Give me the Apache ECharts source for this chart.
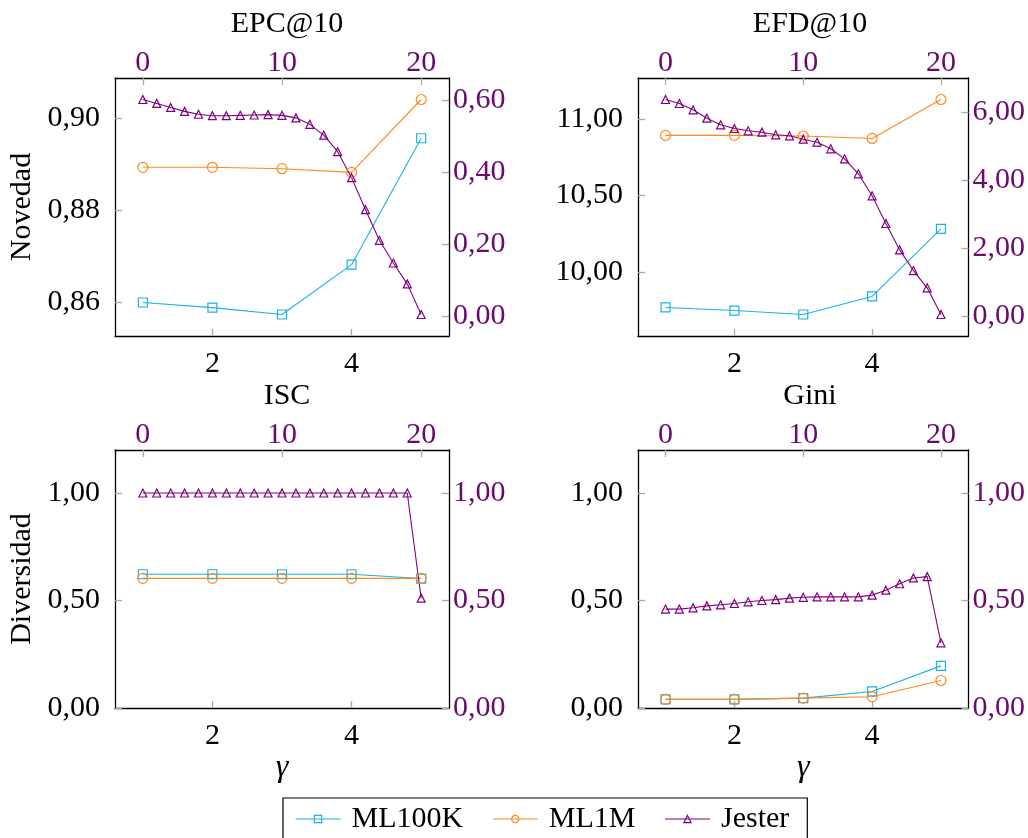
<!DOCTYPE html>
<html>
<head>
<meta charset="utf-8">
<script src="https://cdn.jsdelivr.net/npm/echarts@6/dist/echarts.min.js"></script>
<style>
html,body{margin:0;padding:0;background:#fff;}
#chart{width:1028px;height:838px;}
</style>
</head>
<body>
<div id="chart"></div>
<script>
// ---------------- data ----------------
const gammaML = [1, 2, 3, 4, 5];
const gammaJester = [0, 1, 2, 3, 4, 5, 6, 7, 8, 9, 10, 11, 12, 13, 14, 15, 16, 17, 18, 19, 20];

const epcML100K = [0.8600, 0.8589, 0.8574, 0.8682, 0.8956];
const epcML1M   = [0.8893, 0.8893, 0.8890, 0.8882, 0.9040];
const epcJester = [0.602, 0.591, 0.580, 0.569, 0.561, 0.557, 0.557, 0.558, 0.559, 0.560, 0.558,
                   0.551, 0.533, 0.503, 0.457, 0.385, 0.296, 0.211, 0.148, 0.090, 0.005];

const efdML100K = [9.767, 9.747, 9.721, 9.839, 10.281];
const efdML1M   = [10.893, 10.893, 10.889, 10.873, 11.128];
const efdJester = [6.371, 6.253, 6.068, 5.820, 5.626, 5.517, 5.449, 5.408, 5.331, 5.302, 5.202,
                   5.113, 4.919, 4.624, 4.183, 3.535, 2.719, 1.944, 1.334, 0.825, 0.040];

const iscML100K = [0.622, 0.622, 0.622, 0.622, 0.602];
const iscML1M   = [0.603, 0.603, 0.603, 0.603, 0.603];
const iscJester = [1.00, 1.00, 1.00, 1.00, 1.00, 1.00, 1.00, 1.00, 1.00, 1.00, 1.00,
                   1.00, 1.00, 1.00, 1.00, 1.00, 1.00, 1.00, 1.00, 1.00, 0.511];

const giniML100K = [0.040, 0.040, 0.046, 0.077, 0.196];
const giniML1M   = [0.040, 0.040, 0.046, 0.052, 0.128];
const giniJester = [0.460, 0.460, 0.466, 0.475, 0.480, 0.486, 0.494, 0.500, 0.504, 0.511, 0.515,
                    0.517, 0.517, 0.517, 0.517, 0.525, 0.548, 0.578, 0.605, 0.611, 0.303];

const titles = ['EPC@10', 'EFD@10', 'ISC', 'Gini'];
const seriesNames = ['ML100K', 'ML1M', 'Jester'];
const bottomTicks = [2, 4];
const topTicks = [0, 10, 20];
const epcLeftTicks = [0.86, 0.88, 0.90];
const epcRightTicks = [0.0, 0.2, 0.4, 0.6];
const efdLeftTicks = [10.0, 10.5, 11.0];
const efdRightTicks = [0, 2, 4, 6];
const divTicks = [0, 0.5, 1.0];

// ---------------- style ----------------
const FONT = "'Liberation Serif', 'DejaVu Serif', serif";
const FS = 30;
const C_CYAN = '#1ab0ea';
const C_ORANGE = '#ff8a1a';
const C_PURPLE = '#800080';
const C_LABEL_PURPLE = '#6a0a6c';
const C_TICK = '#a8a8a8';
const seriesColors = [C_CYAN, C_ORANGE, C_PURPLE];
const seriesSymbols = ['rect', 'circle', 'triangle'];

function fmt2(v) { return v.toFixed(2).replace('.', ','); }
function enlarged(arrs) {
  const all = [].concat(...arrs);
  const mn = Math.min(...all), mx = Math.max(...all);
  const r = mx - mn;
  return [mn - 0.1 * r, mx + 0.1 * r];
}

const panels = [
  { left: 115, top: 78, ml100k: epcML100K, ml1m: epcML1M, jester: epcJester,
    lRange: enlarged([epcML100K, epcML1M]), rRange: enlarged([epcJester]),
    lTicks: epcLeftTicks, rTicks: epcRightTicks, yName: 'Novedad', xName: '' },
  { left: 638, top: 78, ml100k: efdML100K, ml1m: efdML1M, jester: efdJester,
    lRange: enlarged([efdML100K, efdML1M]), rRange: enlarged([efdJester]),
    lTicks: efdLeftTicks, rTicks: efdRightTicks, yName: '', xName: '' },
  { left: 115, top: 450, ml100k: iscML100K, ml1m: iscML1M, jester: iscJester,
    lRange: [0, 1.2], rRange: [0, 1.2],
    lTicks: divTicks, rTicks: divTicks, yName: 'Diversidad', xName: 'γ' },
  { left: 638, top: 450, ml100k: giniML100K, ml1m: giniML1M, jester: giniJester,
    lRange: [0, 1.2], rRange: [0, 1.2],
    lTicks: divTicks, rTicks: divTicks, yName: '', xName: 'γ' }
];
const W = 334, H = 258;

const grid = [], xAxis = [], yAxis = [], series = [], title = [];
const axisLine = { show: true, onZero: false, lineStyle: { color: '#000', width: 1.3 } };
function tick(vals) {
  return { show: true, inside: true, length: 7, customValues: vals, lineStyle: { color: C_TICK, width: 1.3 } };
}

panels.forEach((p, g) => {
  grid.push({ left: p.left, top: p.top, width: W, height: H, containLabel: false });
  title.push({ text: titles[g], left: p.left + W / 2, top: p.top - 74, textAlign: 'center',
    textStyle: { fontFamily: FONT, fontSize: FS, fontWeight: 'normal', color: '#000' } });
  xAxis.push({ type: 'value', gridIndex: g, position: 'bottom', min: 0.6, max: 5.4,
    axisLine, splitLine: { show: false }, axisTick: tick(bottomTicks),
    axisLabel: { customValues: bottomTicks, formatter: v => String(v), color: '#000',
      fontFamily: FONT, fontSize: FS, margin: 13 },
    name: p.xName, nameLocation: 'middle', nameGap: 40,
    nameTextStyle: { fontFamily: FONT, fontSize: 32, fontStyle: 'italic', color: '#000' } });
  xAxis.push({ type: 'value', gridIndex: g, position: 'top', min: -2, max: 22,
    axisLine, splitLine: { show: false }, axisTick: tick(topTicks),
    axisLabel: { customValues: topTicks, formatter: v => String(v), color: C_LABEL_PURPLE,
      fontFamily: FONT, fontSize: FS, margin: 0 } });
  yAxis.push({ type: 'value', gridIndex: g, position: 'left', min: p.lRange[0], max: p.lRange[1],
    axisLine, splitLine: { show: false }, axisTick: tick(p.lTicks),
    axisLabel: { customValues: p.lTicks, formatter: fmt2, color: '#000',
      fontFamily: FONT, fontSize: FS, margin: 15 },
    name: p.yName, nameLocation: 'middle', nameRotate: 90, nameGap: 78,
    nameTextStyle: { fontFamily: FONT, fontSize: FS, color: '#000' } });
  yAxis.push({ type: 'value', gridIndex: g, position: 'right', min: p.rRange[0], max: p.rRange[1],
    axisLine, splitLine: { show: false }, axisTick: tick(p.rTicks),
    axisLabel: { customValues: p.rTicks, formatter: fmt2, color: C_LABEL_PURPLE,
      fontFamily: FONT, fontSize: FS, margin: 4 } });

  const mk = (k, xs, ys, size, xi, yi) => ({
    name: seriesNames[k], type: 'line', xAxisIndex: xi, yAxisIndex: yi,
    data: xs.map((x, i) => [x, ys[i]]),
    symbol: seriesSymbols[k], symbolSize: size, showAllSymbol: true,
    lineStyle: { color: seriesColors[k], width: 1.1 },
    itemStyle: { color: 'rgba(255,255,255,0)', borderColor: seriesColors[k], borderWidth: 1.2 },
    emphasis: { disabled: true }, z: 2
  });
  series.push(mk(0, gammaML, p.ml100k, 9, 2 * g, 2 * g));
  series.push(mk(1, gammaML, p.ml1m, 10, 2 * g, 2 * g));
  series.push(mk(2, gammaJester, p.jester, 8, 2 * g + 1, 2 * g + 1));
});

const chart = echarts.init(document.getElementById('chart'), null, { renderer: 'canvas' });
chart.setOption({
  animation: false,
  backgroundColor: '#fff',
  title, grid, xAxis, yAxis, series,
  legend: {
    data: seriesNames.map((n, k) => ({
      name: n,
      itemStyle: { color: 'rgba(255,255,255,0)', borderColor: seriesColors[k], borderWidth: 1.2 },
      lineStyle: { color: seriesColors[k], width: 1.1 }
    })),
    left: 283, top: 798, orient: 'horizontal',
    padding: [6, 18, 6, 12], itemGap: 29, itemWidth: 45, itemHeight: 9,
    borderColor: '#000', borderWidth: 1.2,
    textStyle: { fontFamily: FONT, fontSize: FS, color: '#000', padding: [0, 0, 0, 6] }
  }
});
</script>
</body>
</html>
